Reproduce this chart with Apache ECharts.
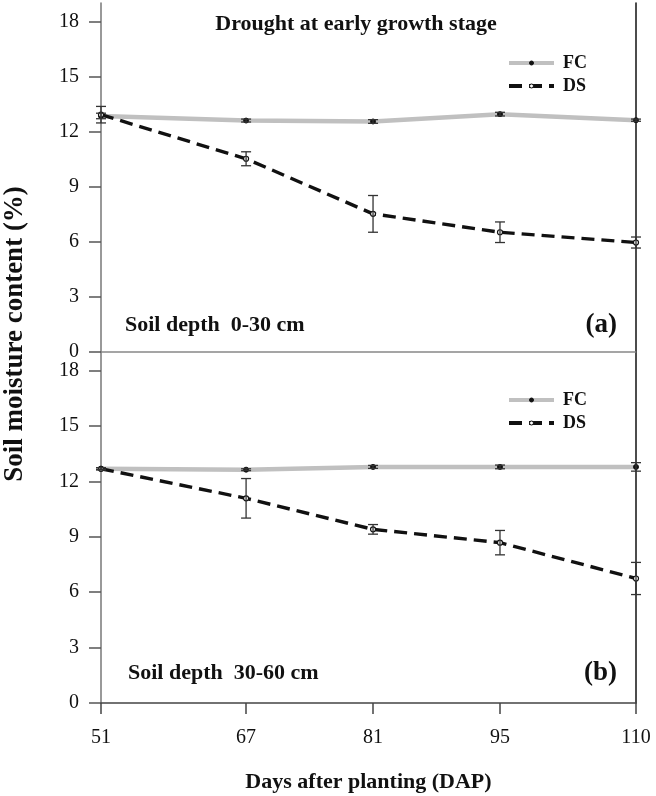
<!DOCTYPE html>
<html>
<head>
<meta charset="utf-8">
<script src="https://cdn.jsdelivr.net/npm/echarts@6/dist/echarts.min.js"></script>
<style>
    html, body { margin: 0; padding: 0; background: #fff; }
    #soilChart { width: 656px; height: 796px; }
</style>
</head>
<body>
<div id="soilChart"></div>
<script>
// days after planting (x positions are the real day values)
var dapList = [51, 67, 81, 95, 110];
var yTicks = [0, 3, 6, 9, 12, 15, 18];

// (a) soil depth 0-30 cm
var fcTop = [12.85, 12.6, 12.55, 12.95, 12.62];
var fcTopErr = [0.15, 0.08, 0.1, 0.1, 0.06];
var dsTop = [12.92, 10.52, 7.52, 6.52, 5.96];
var dsTopErr = [0.45, 0.38, 1.0, 0.56, 0.3];

// (b) soil depth 30-60 cm
var fcBottom = [12.68, 12.63, 12.78, 12.78, 12.78];
var fcBottomErr = [0.06, 0.05, 0.08, 0.1, 0.23];
var dsBottom = [12.68, 11.08, 9.4, 8.68, 6.74];
var dsBottomErr = [0.05, 1.07, 0.26, 0.66, 0.87];

var serifFont = "'Times New Roman', 'Liberation Serif', serif";

function pairs(values) {
    return dapList.map(function (d, i) { return [d, values[i]]; });
}
function errPairs(values, errs) {
    return dapList.map(function (d, i) { return [d, values[i] - errs[i], values[i] + errs[i]]; });
}

function renderErrorBar(params, api) {
    var x = api.value(0);
    var lo = api.coord([x, api.value(1)]);
    var hi = api.coord([x, api.value(2)]);
    var half = 5;
    var style = { stroke: '#333', lineWidth: 1.3 };
    return {
        type: 'group',
        children: [
            { type: 'line', shape: { x1: lo[0], y1: lo[1], x2: hi[0], y2: hi[1] }, style: style },
            { type: 'line', shape: { x1: lo[0] - half, y1: lo[1], x2: lo[0] + half, y2: lo[1] }, style: style },
            { type: 'line', shape: { x1: hi[0] - half, y1: hi[1], x2: hi[0] + half, y2: hi[1] }, style: style }
        ]
    };
}

function xAxisFor(gridIndex, bottom) {
    return {
        type: 'value',
        gridIndex: gridIndex,
        min: 51,
        max: 110,
        axisLine: { show: true, onZero: false, lineStyle: { color: bottom ? '#444' : '#888', width: 1.5 } },
        axisTick: { show: bottom, length: 11, customValues: dapList, lineStyle: { color: '#444', width: 1.5 } },
        axisLabel: {
            show: bottom, customValues: dapList, margin: 25,
            color: '#111', fontSize: 20, fontFamily: serifFont
        },
        splitLine: { show: false },
        name: bottom ? 'Days after planting (DAP)' : '',
        nameLocation: 'middle',
        nameGap: 68,
        nameTextStyle: { fontSize: 22, fontWeight: 'bold', color: '#111', fontFamily: serifFont }
    };
}

function yAxisFor(gridIndex) {
    return {
        type: 'value',
        gridIndex: gridIndex,
        min: 0,
        max: 19,
        axisLine: { show: true, lineStyle: { color: '#777', width: 1.5 } },
        axisTick: { show: true, length: 12, customValues: yTicks, lineStyle: { color: '#555', width: 1.5 } },
        axisLabel: { customValues: yTicks, margin: 22, color: '#111', fontSize: 20, fontFamily: serifFont },
        splitLine: { show: false }
    };
}

function rightFrame(gridIndex) {
    return {
        type: 'value',
        gridIndex: gridIndex,
        position: 'right',
        min: 0,
        max: 19,
        axisLine: { show: true, lineStyle: { color: '#111', width: 1.5 } },
        axisTick: { show: false },
        axisLabel: { show: false },
        splitLine: { show: false }
    };
}

function lineSeries(name, values, idx) {
    var fc = name === 'FC';
    return {
        name: name,
        type: 'line',
        xAxisIndex: idx,
        yAxisIndex: idx * 2,
        data: pairs(values),
        clip: false,
        symbol: 'circle',
        symbolSize: 5,
        z: fc ? 3 : 4,
        lineStyle: fc
            ? { color: '#c0c0c0', width: 4.5 }
            : { color: '#111', width: 3.4, type: [13, 7] },
        itemStyle: fc
            ? { color: '#111', borderColor: '#111', borderWidth: 1 }
            : { color: '#fff', borderColor: '#111', borderWidth: 1.2 },
        animation: false
    };
}

function errSeries(values, errs, idx) {
    return {
        type: 'custom',
        xAxisIndex: idx,
        yAxisIndex: idx * 2,
        data: errPairs(values, errs),
        renderItem: renderErrorBar,
        clip: false,
        z: 5,
        animation: false,
        silent: true
    };
}

function legendFor(top) {
    return {
        data: ['FC', 'DS'],
        orient: 'vertical',
        left: 502,
        top: top,
        itemWidth: 45,
        itemHeight: 5,
        itemGap: 5,
        lineStyle: { width: 4 },
        itemStyle: { borderWidth: 1 },
        textStyle: { fontSize: 18, fontWeight: 'bold', color: '#111', fontFamily: serifFont, padding: [0, 0, 0, 4] },
        selectedMode: false
    };
}

var chart = echarts.init(document.getElementById('soilChart'));
var option = {
    backgroundColor: '#fff',
    animation: false,
    grid: [
        { left: 101, right: 20, top: 3, height: 349 },
        { left: 101, right: 20, top: 352, height: 351 }
    ],
    legend: [legendFor(49), legendFor(386)],
    xAxis: [xAxisFor(0, false), xAxisFor(1, true)],
    yAxis: [yAxisFor(0), rightFrame(0), yAxisFor(1), rightFrame(1)],
    graphic: [
        { type: 'text', x: 356, y: 24, style: { text: 'Drought at early growth stage', font: 'bold 22px ' + serifFont, fill: '#111', textAlign: 'center', textVerticalAlign: 'middle' } },
        { type: 'text', x: 125, y: 325, style: { text: 'Soil depth  0-30 cm', font: 'bold 22px ' + serifFont, fill: '#111', textAlign: 'left', textVerticalAlign: 'middle' } },
        { type: 'text', x: 128, y: 673, style: { text: 'Soil depth  30-60 cm', font: 'bold 22px ' + serifFont, fill: '#111', textAlign: 'left', textVerticalAlign: 'middle' } },
        { type: 'text', x: 617, y: 325, style: { text: '(a)', font: 'bold 27px ' + serifFont, fill: '#111', textAlign: 'right', textVerticalAlign: 'middle' } },
        { type: 'text', x: 617, y: 673, style: { text: '(b)', font: 'bold 27px ' + serifFont, fill: '#111', textAlign: 'right', textVerticalAlign: 'middle' } },
        { type: 'text', x: 15, y: 334, rotation: Math.PI / 2, style: { text: 'Soil moisture content (%)', font: 'bold 27px ' + serifFont, fill: '#111', textAlign: 'center', textVerticalAlign: 'middle' } }
    ],
    series: [
        lineSeries('FC', fcTop, 0),
        lineSeries('DS', dsTop, 0),
        errSeries(fcTop, fcTopErr, 0),
        errSeries(dsTop, dsTopErr, 0),
        lineSeries('FC', fcBottom, 1),
        lineSeries('DS', dsBottom, 1),
        errSeries(fcBottom, fcBottomErr, 1),
        errSeries(dsBottom, dsBottomErr, 1)
    ]
};
chart.setOption(option);
</script>
</body>
</html>
